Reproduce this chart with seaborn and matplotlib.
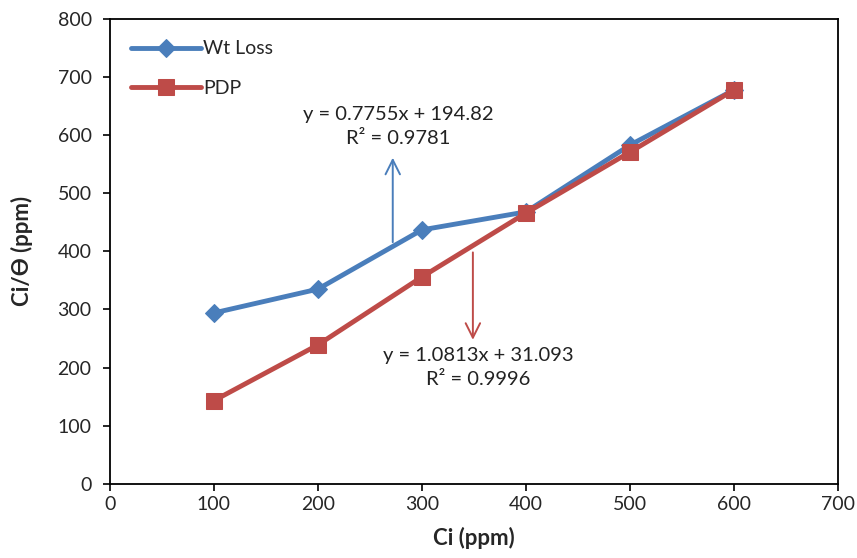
import matplotlib
matplotlib.use("Agg")
import matplotlib.pyplot as plt
import seaborn as sns
import pandas as pd

# Datos
ci = [100, 200, 300, 400, 500, 600]
wt_loss = [294, 335, 437, 468, 583, 678]
pdp = [143, 239, 356, 466, 571, 678]

eq_wt = "y = 0.7755x + 194.82\nR² = 0.9781"
eq_pdp = "y = 1.0813x + 31.093\nR² = 0.9996"

blue = "#4A7EBB"
red = "#BE4B48"


def main():
    sns.set_style("white")
    plt.rcParams["font.family"] = ["Lato", "DejaVu Sans"]

    fig = plt.figure(figsize=(8.57, 5.58), dpi=100)
    ax = fig.add_axes([0.128, 0.133, 0.85, 0.833])

    df = pd.DataFrame({"Ci": ci, "Wt Loss": wt_loss, "PDP": pdp})

    sns.lineplot(data=df, x="Ci", y="Wt Loss", ax=ax, color=blue, lw=3.5,
                 marker="D", markersize=9, markeredgecolor=blue, label="Wt Loss")
    sns.lineplot(data=df, x="Ci", y="PDP", ax=ax, color=red, lw=3.5,
                 marker="s", markersize=12, markeredgecolor=red, label="PDP")

    ax.set_xlim(0, 700)
    ax.set_ylim(0, 800)
    ax.set_xticks(range(0, 701, 100))
    ax.set_yticks(range(0, 801, 100))
    ax.tick_params(axis="both", labelsize=14, direction="out", length=5,
                   width=1.2, color="black", left=True, bottom=True)
    ax.tick_params(axis="y", pad=8)
    for s in ax.spines.values():
        s.set_color("black")
        s.set_linewidth(1.3)

    ax.set_xlabel("Ci (ppm)", fontsize=16, fontweight="bold", labelpad=10)
    ax.set_ylabel("Ci/Ө (ppm)", fontsize=16, fontweight="bold", labelpad=18)

    # Ecuaciones de tendencia con flechas
    ax.annotate("", xy=(272, 566), xytext=(272, 411),
                arrowprops=dict(arrowstyle="->", color=blue, lw=1.4,
                                mutation_scale=26))
    ax.annotate("", xy=(349, 243), xytext=(349, 403),
                arrowprops=dict(arrowstyle="->", color=red, lw=1.4,
                                mutation_scale=26))
    ax.text(277, 615, eq_wt, ha="center", va="center", fontsize=14.5,
            linespacing=1.45, color="#222222")
    ax.text(354, 200, eq_pdp, ha="center", va="center", fontsize=14.5,
            linespacing=1.45, color="#222222")

    ax.legend(loc="upper left", frameon=False, fontsize=14,
              handlelength=3.6, labelspacing=1.15, handletextpad=0.1,
              borderaxespad=0.7)

    fig.savefig("out.png", dpi=100)
    plt.close(fig)


if __name__ == "__main__":
    main()
